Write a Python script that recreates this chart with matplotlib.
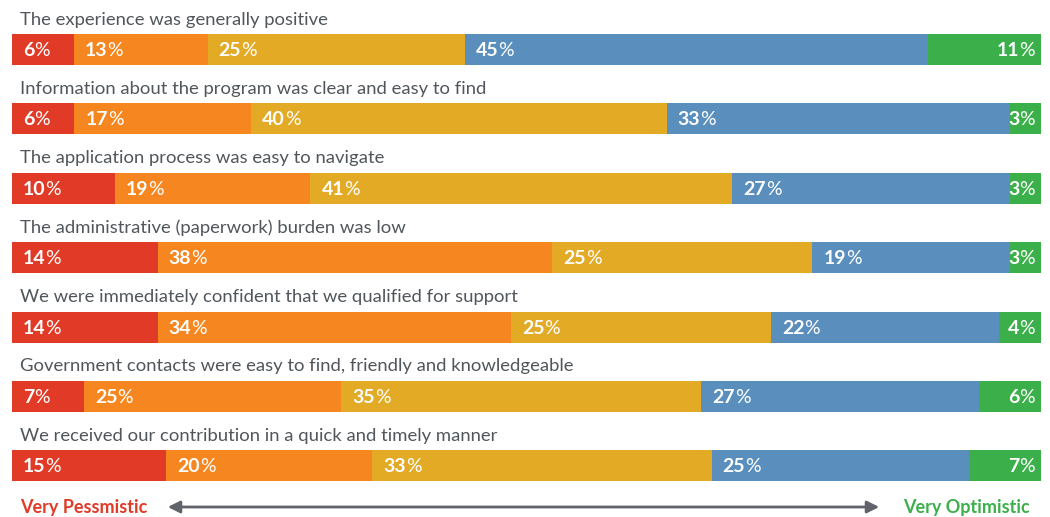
import matplotlib.pyplot as plt

questions = [
    "The experience was generally positive",
    "Information about the program was clear and easy to find",
    "The application process was easy to navigate",
    "The administrative (paperwork) burden was low",
    "We were immediately confident that we qualified for support",
    "Government contacts were easy to find, friendly and knowledgeable",
    "We received our contribution in a quick and timely manner",
]
very_pessimistic = [6, 6, 10, 14, 14, 7, 15]
pessimistic = [13, 17, 19, 38, 34, 25, 20]
neutral = [25, 40, 41, 25, 25, 35, 33]
optimistic = [45, 33, 27, 19, 22, 27, 25]
very_optimistic = [11, 3, 3, 3, 4, 6, 7]

series = [very_pessimistic, pessimistic, neutral, optimistic, very_optimistic]
colors = ["#E13A27", "#F6861F", "#E3AB25", "#5A8FBD", "#3BB04A"]

plt.rcParams["font.family"] = ["Lato", "DejaVu Sans"]

fig = plt.figure(figsize=(10.5, 5.17), dpi=100)
# axes spans the bar width; y in pixel units from the top
ax = fig.add_axes([12 / 1050, 0, 1029 / 1050, 1])
ax.set_xlim(0, 100)
ax.set_ylim(517, 0)
ax.axis("off")

row_gap = 69.4
bar_h = 31
first_center = 49.5
px = 100 / 1029  # one pixel in data units

for i, q in enumerate(questions):
    yc = first_center + i * row_gap
    vals = [s[i] for s in series]
    total = sum(vals)
    left = 0
    for j, v in enumerate(vals):
        w = v / total * 100
        ax.barh(yc, w, left=left, height=bar_h, color=colors[j], linewidth=0)
        if j < 4:
            t = ax.text(left + 11 * px, yc + 1, str(v), color="white",
                        fontsize=14, fontweight="bold", va="center", ha="left")
            ax.annotate("%", xy=(1, 0.5), xycoords=t, va="center", ha="left",
                        color="white", fontsize=14, fontweight="normal")
        else:
            t = ax.text(100 - 6 * px, yc + 1, "%", color="white",
                        fontsize=14, fontweight="normal", va="center", ha="right")
            ax.annotate(str(v), xy=(0, 0.5), xycoords=t, va="center", ha="right",
                        color="white", fontsize=14, fontweight="bold")
        left += w
    ax.text(8 * px, yc - 30, q, color="#50565b", fontsize=13.3,
            fontweight="normal", va="center", ha="left")

# bottom scale
ax.text(8 * px, 507, "Very Pessmistic", color="#E13A27", fontsize=13,
        fontweight="bold", va="center", ha="left")
ax.text(100 - 11 * px, 507, "Very Optimistic", color="#3BB04A", fontsize=13,
        fontweight="bold", va="center", ha="right")
ax.annotate("", xy=(153 * px, 507), xytext=(870 * px, 507),
            arrowprops=dict(arrowstyle="<|-|>", color="#606369", lw=2,
                            mutation_scale=18))

fig.savefig("out.png", dpi=100)
